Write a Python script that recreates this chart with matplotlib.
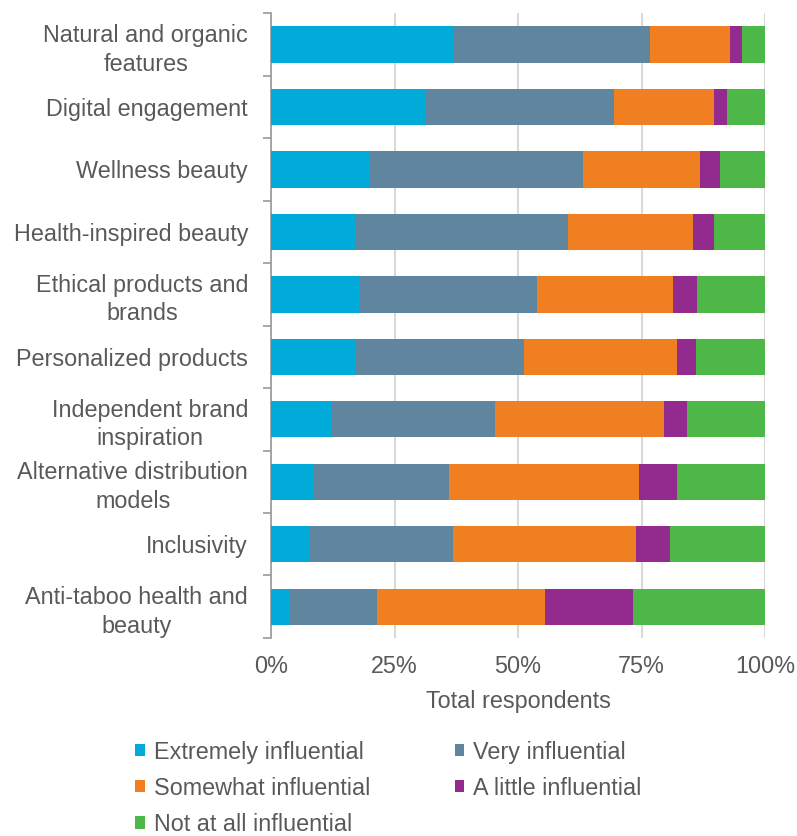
import matplotlib
matplotlib.use("Agg")
import matplotlib.pyplot as plt
import numpy as np

categories = ["Natural and organic\nfeatures", "Digital engagement", "Wellness beauty",
              "Health-inspired beauty", "Ethical products and\nbrands", "Personalized products",
              "Independent brand\ninspiration", "Alternative distribution\nmodels", "Inclusivity",
              "Anti-taboo health and\nbeauty"]
extremely = [37.1, 31.3, 20.0, 17.0, 18.0, 17.0, 12.1, 8.7, 7.9, 3.8]
very = [39.6, 38.1, 43.2, 43.2, 35.8, 34.3, 33.2, 27.3, 28.9, 17.7]
somewhat = [16.1, 20.3, 23.6, 25.3, 27.6, 30.8, 34.3, 38.4, 37.1, 34.0]
little = [2.5, 2.5, 4.0, 4.2, 4.9, 3.9, 4.6, 7.7, 6.9, 17.8]
notatall = [4.7, 7.8, 9.2, 10.3, 13.7, 14.0, 15.8, 17.9, 19.2, 26.7]
series_names = ["Extremely influential", "Very influential", "Somewhat influential",
                "A little influential", "Not at all influential"]
colors = ["#00AAD9", "#5F859F", "#F07F22", "#932A8E", "#4DB748"]
xticklabels = ["0%", "25%", "50%", "75%", "100%"]

plt.rcParams['font.family'] = ['Liberation Sans', 'DejaVu Sans']
txt = "#595959"
FS = 16.8

fig = plt.figure(figsize=(7.97, 8.36), dpi=100)
ax = fig.add_axes([0.340, 0.237, 0.620, 0.747])

y = np.arange(len(categories))
left = np.zeros(len(categories))
handles = []
for vals, name, c in zip([extremely, very, somewhat, little, notatall], series_names, colors):
    vals = np.array(vals)
    b = ax.barh(y, vals, left=left, height=0.58, color=c, label=name, zorder=3)
    handles.append(b)
    left = left + vals

ax.set_xlim(0, 100)
ax.set_ylim(len(categories) - 0.5, -0.5)
ax.set_xticks([0, 25, 50, 75, 100])
ax.set_xticklabels(xticklabels, fontsize=FS, color=txt)
ax.set_yticks(y)
ax.set_yticklabels(categories, fontsize=FS, color=txt, linespacing=1.3)
ax.tick_params(axis='y', length=0, pad=16.5)
ax.tick_params(axis='x', length=0, pad=12)
ax.set_yticks(np.arange(-0.5, len(categories), 1.0), minor=True)
ax.tick_params(axis='y', which='minor', length=6, color="#999999", width=1.2, direction='out')
for lbl in ax.get_yticklabels():
    lbl.set_multialignment('center')
ax.grid(axis='x', color="#D9D9D9", linewidth=1.5, zorder=0)
for s in ["top", "right", "bottom"]:
    ax.spines[s].set_visible(False)
ax.spines["left"].set_color("#999999")
ax.spines["left"].set_linewidth(1.2)
ax.set_xlabel("Total respondents", fontsize=FS, color=txt, labelpad=9)

order = [0, 2, 4, 1, 3]
leg = fig.legend([handles[i] for i in order], [series_names[i] for i in order],
                 loc='upper left', bbox_to_anchor=(0.170, 0.114), ncol=2, frameon=False,
                 fontsize=FS, handlelength=0.42, handleheight=0.42, handletextpad=0.38,
                 columnspacing=3.6, labelspacing=0.56, borderaxespad=0, borderpad=0)
for t in leg.get_texts():
    t.set_color(txt)

fig.savefig("out.png", dpi=100)
